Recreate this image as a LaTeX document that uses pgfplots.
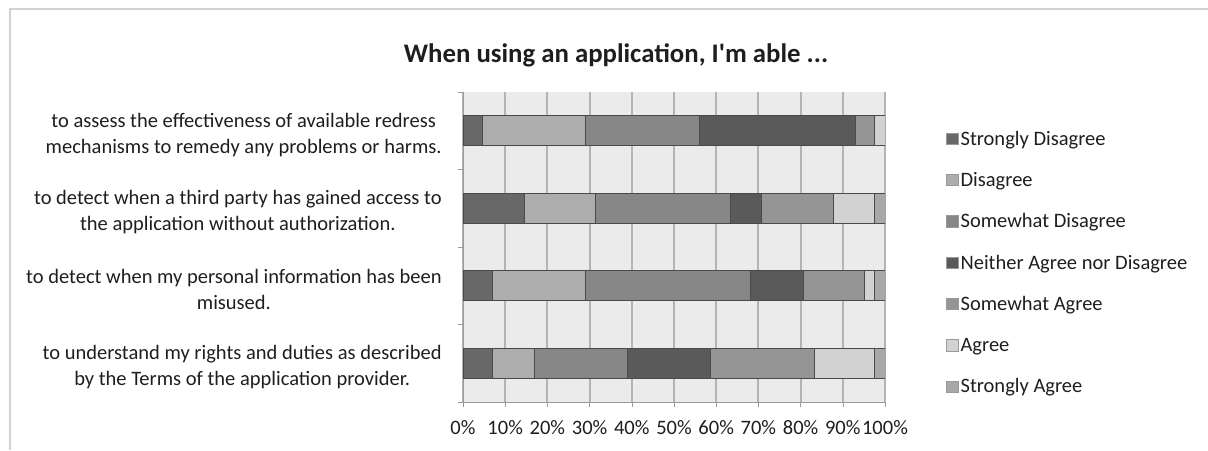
\documentclass[border=0pt]{standalone}
\usepackage{pgfplots}
\pgfplotsset{compat=1.18}
\usepackage{pgfplotstable}
\usepackage{fontspec}
\setmainfont{Carlito}[Ligatures=TeXOff]
\definecolor{cSD}{HTML}{686868}
\definecolor{cD}{HTML}{ADADAD}
\definecolor{cSwD}{HTML}{878787}
\definecolor{cN}{HTML}{5A5A5A}
\definecolor{cSwA}{HTML}{959595}
\definecolor{cA}{HTML}{D2D2D2}
\definecolor{cSA}{HTML}{A8A8A8}
\definecolor{bggray}{HTML}{EBEBEB}
\definecolor{gridgray}{HTML}{B4B4B4}
\definecolor{axisgray}{HTML}{9A9A9A}
\definecolor{bordergray}{HTML}{D2D2D2}
\definecolor{barline}{HTML}{4A4A4A}
\definecolor{textgray}{HTML}{1E1E1E}
\pgfplotstableread{
cat sd   d    swd  n    swa  a    sa
0   4.6  24.4 27.0 36.9 4.6  2.5  0.0
1   14.5 17.0 31.8 7.5  17.1 9.6  2.5
2   7.0  22.0 39.2 12.4 14.5 2.4  2.5
3   7.0  9.9  22.0 19.8 24.5 14.3 2.5
}\datatable
\begin{document}
\begin{tikzpicture}
\path[use as bounding box] (0,0) rectangle (604pt,225pt);
\draw[bordergray, line width=1pt] (5pt,0) -- (5pt,220.5pt) -- (604pt,220.5pt);
\node[font=\fontsize{13.4}{15}\selectfont\bfseries, text=textgray] at (308pt,197.5pt) {When using an application, I'm able ...};
\begin{axis}[
  at={(231.5pt,24pt)}, anchor=south west,
  width=211pt, height=155pt, scale only axis,
  xbar stacked, bar width=0.39,
  xmin=0, xmax=100, ymin=-0.5, ymax=3.5,
  y dir=reverse,
  ytick={0,1,2,3},
  yticklabels={{to assess the effectiveness of available redress\\mechanisms to remedy any problems or harms.},
               {to detect when a third party has gained access to\\the application without authorization.},
               {to detect when my personal information has been\\misused.},
               {to understand my rights and duties as described\\by the Terms of the application provider.}},
  minor ytick={-0.5,0.5,1.5,2.5,3.5},
  y tick style={draw=none},
  minor y tick style={draw=axisgray},
  minor tick length=2.5pt,
  xtick={0,10,...,100},
  xticklabel={\pgfmathprintnumber{\tick}\%},
  /pgf/number format/assume math mode=true,
  xmajorgrids, grid style={gridgray, line width=1pt},
  axis background/.style={fill=bggray},
  axis x line*=bottom, axis y line*=left,
  axis line style={axisgray, -},
  tick align=outside, major tick length=2.5pt,
  x tick style={axisgray},
  tick label style={font=\fontsize{10.25}{12.5}\selectfont, text=textgray},
  yticklabel style={align=center, inner sep=0pt, xshift=-8pt, yshift=-2pt,
    font=\fontsize{10.25}{13}\selectfont},
  xticklabel style={yshift=-3pt},
  legend style={at={(1.1445,0.445)}, anchor=west, draw=none, fill=none,
    inner sep=0pt, font=\fontsize{10.25}{12.5}\selectfont,
    nodes={inner sep=1pt, text height=7pt, text depth=2pt, text=textgray},
    /tikz/row sep=9.65pt},
  legend cell align=left,
  legend image code/.code={\draw[#1, draw=axisgray] (0pt,-2.2pt) rectangle (5.6pt,3.4pt);},
  every axis plot/.append style={draw=barline, line width=0.5pt},
]
\addplot[fill=cSD] table[x=sd, y=cat] {\datatable};
\addplot[fill=cD] table[x=d, y=cat] {\datatable};
\addplot[fill=cSwD] table[x=swd, y=cat] {\datatable};
\addplot[fill=cN] table[x=n, y=cat] {\datatable};
\addplot[fill=cSwA] table[x=swa, y=cat] {\datatable};
\addplot[fill=cA] table[x=a, y=cat] {\datatable};
\addplot[fill=cSA] table[x=sa, y=cat] {\datatable};
\legend{Strongly Disagree, Disagree, Somewhat Disagree, Neither Agree nor Disagree, Somewhat Agree, Agree, Strongly Agree}
\end{axis}
\end{tikzpicture}
\end{document}
